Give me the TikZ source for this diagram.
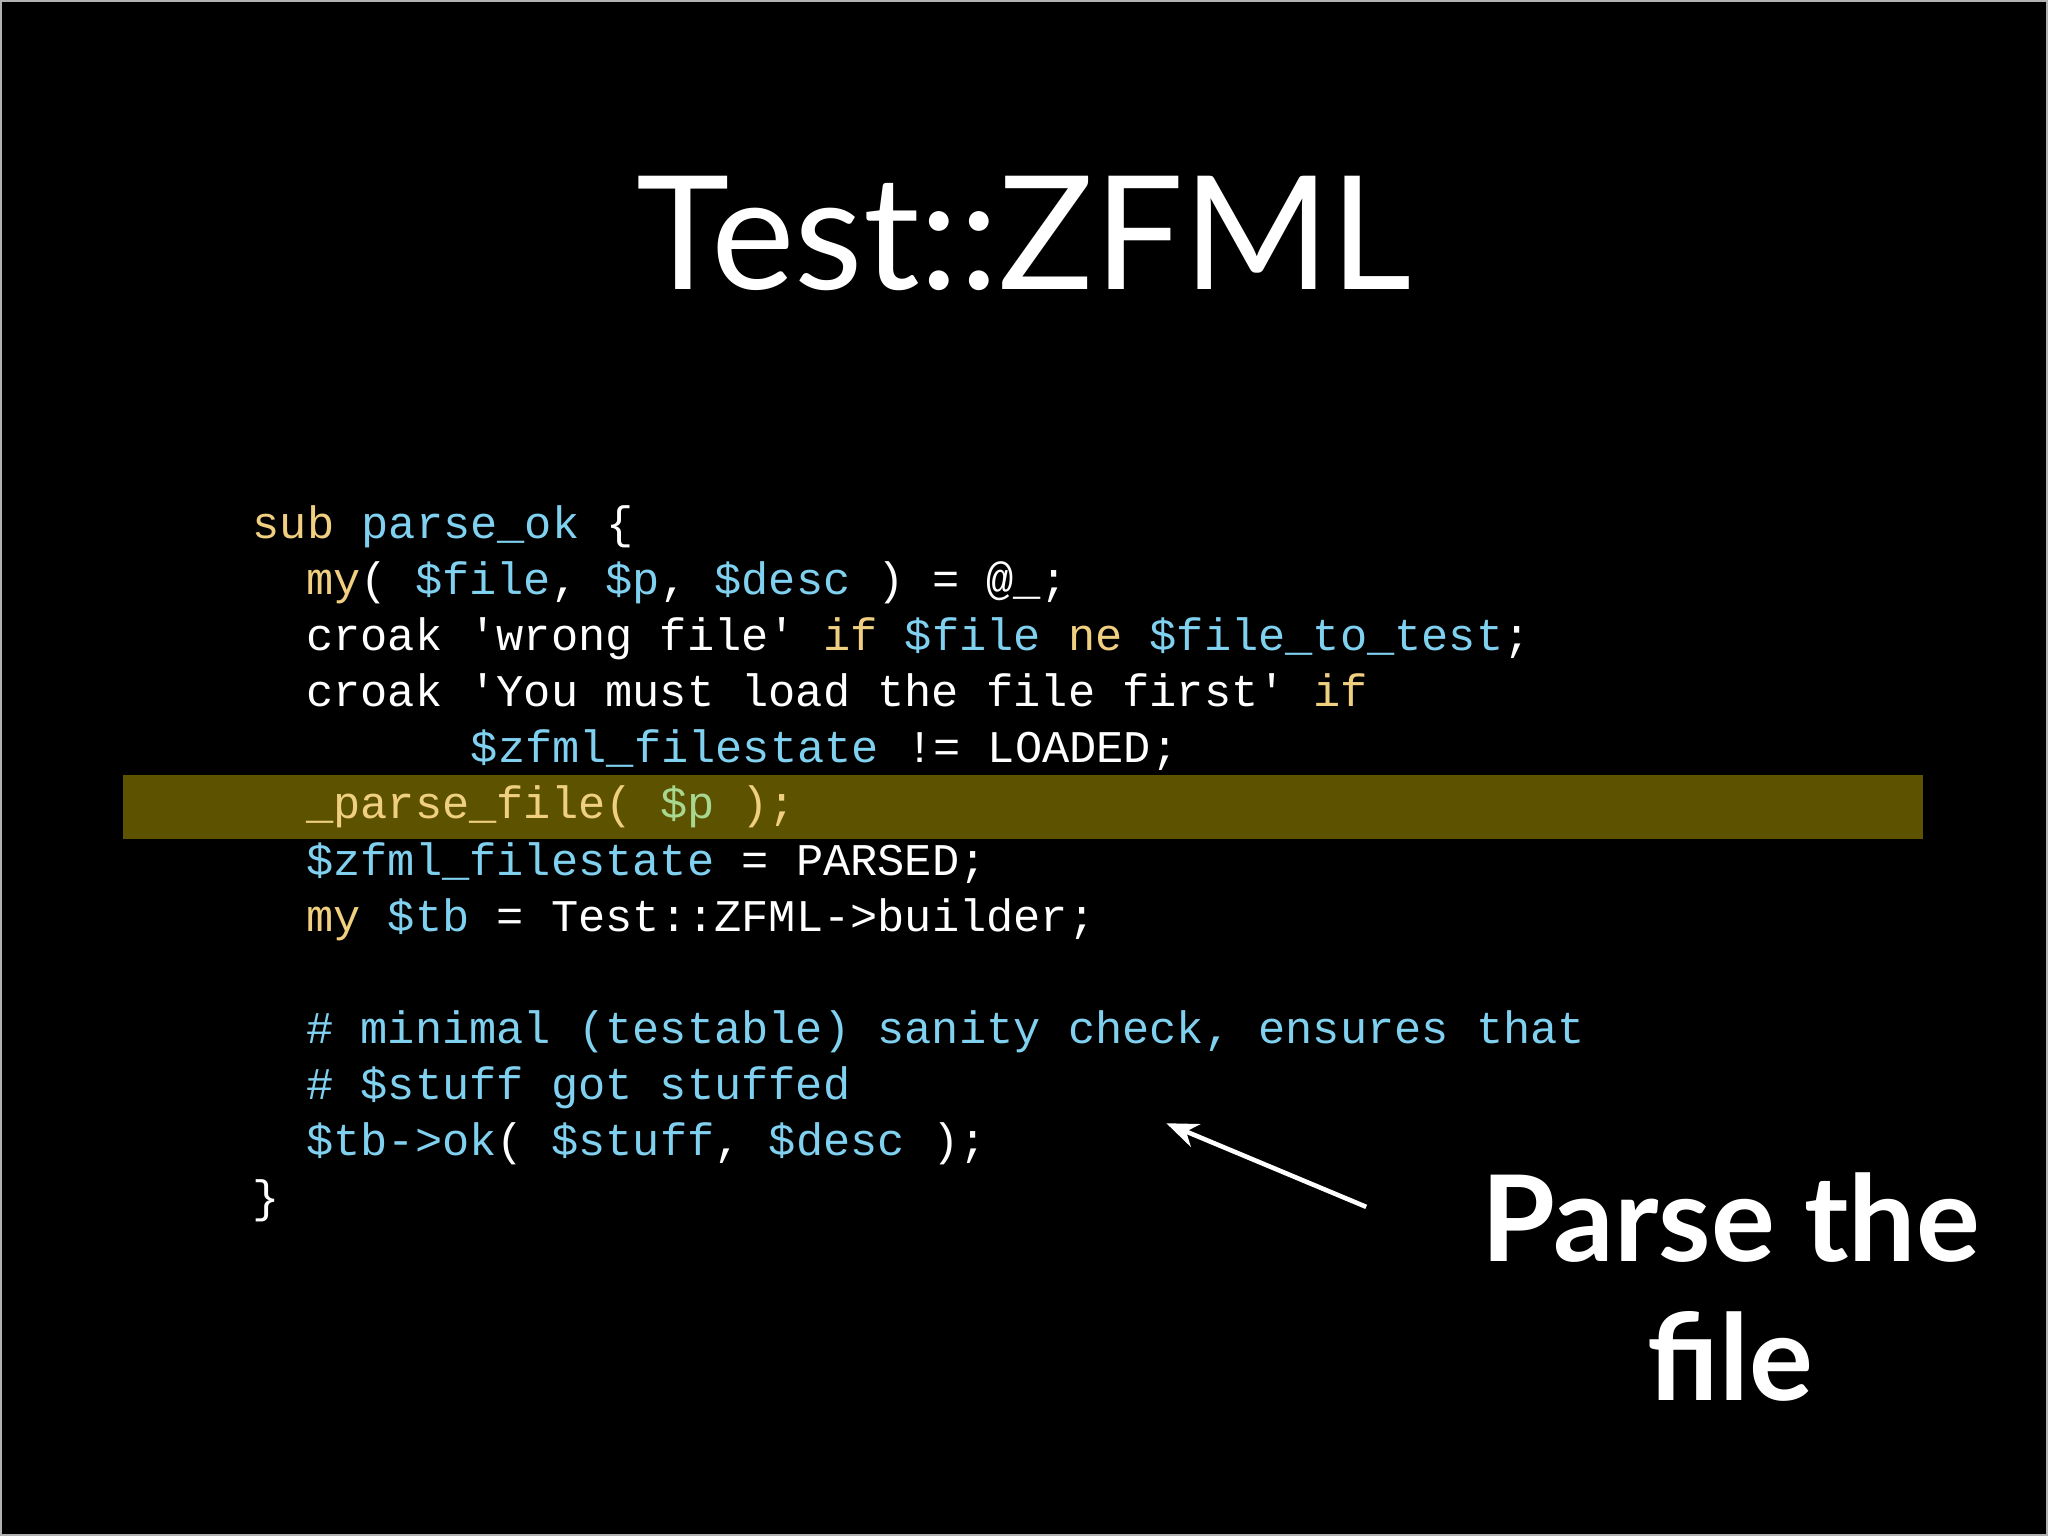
\documentclass[tikz,border=0pt]{standalone}
\usepackage{fontspec}
\usetikzlibrary{arrows.meta}
\setmainfont{Lato}
\newfontfamily\code{Liberation Mono}
\definecolor{kw}{HTML}{F0D080}
\definecolor{vr}{HTML}{80D0F0}
\definecolor{gr}{HTML}{A8D890}
\definecolor{hl}{HTML}{5C5200}
\newcommand{\Y}[1]{\textcolor{kw}{#1}}
\newcommand{\C}[1]{\textcolor{vr}{#1}}
\newcommand{\G}[1]{\textcolor{gr}{#1}}
\begin{document}
\begin{tikzpicture}[x=0.01306cm,y=-0.01306cm,
  cl/.style={anchor=base west,inner sep=0,text=white,font=\code\fontsize{12.9}{14}\selectfont}]
\useasboundingbox (0,0) rectangle (1568,1176);
\fill[black] (0,0) rectangle (1568,1176);
\draw[gray!60,line width=0.6pt] (0.5,0.5) rectangle (1567.5,1175.5);
\node[anchor=base,text=white,font=\fontsize{45}{50}\selectfont,inner sep=0] (title) at (784,222) {Test::ZFML};
\fill[hl] (94,593) rectangle (1472,642);
\node[cl] (l1) at (193,412) {\Y{sub} \C{parse\_ok} \{};
\node[cl] (l2) at (234,455) {\Y{my}( \C{\$file}, \C{\$p}, \C{\$desc} ) = @\_;};
\node[cl] (l3) at (234,498) {croak 'wrong file' \Y{if} \C{\$file} \Y{ne} \C{\$file\_to\_test};};
\node[cl] (l4) at (234,541) {croak 'You must load the file first' \Y{if}};
\node[cl] (l5) at (360,584) {\C{\$zfml\_filestate} != LOADED;};
\node[cl] (l6) at (234,627) {\Y{\_parse\_file(} \G{\$p} \Y{);}};
\node[cl] (l7) at (234,670) {\C{\$zfml\_filestate} = PARSED;};
\node[cl] (l8) at (234,713) {\Y{my} \C{\$tb} = Test::ZFML->builder;};
\node[cl] (l9) at (234,799) {\C{\# minimal (testable) sanity check, ensures that}};
\node[cl] (l10) at (234,842) {\C{\# \$stuff got stuffed}};
\node[cl] (l11) at (234,885) {\C{\$tb->ok}( \C{\$stuff}, \C{\$desc} );};
\node[cl] (l12) at (193,928) {\}};
\node[anchor=base,text=white,font=\fontsize{34}{38}\selectfont\bfseries,inner sep=0,align=center] (p1) at (1325,966) {Parse the};
\node[anchor=base,text=white,font=\fontsize{34}{38}\selectfont\bfseries,inner sep=0] (p2) at (1325,1072) {file};
\coordinate (a0) at (1046,924);
\coordinate (a1) at (893,860);
\draw[white,line width=1.3pt,-{Stealth[length=9pt,width=7pt]}] (a0) -- (a1);
\end{tikzpicture}
\end{document}
